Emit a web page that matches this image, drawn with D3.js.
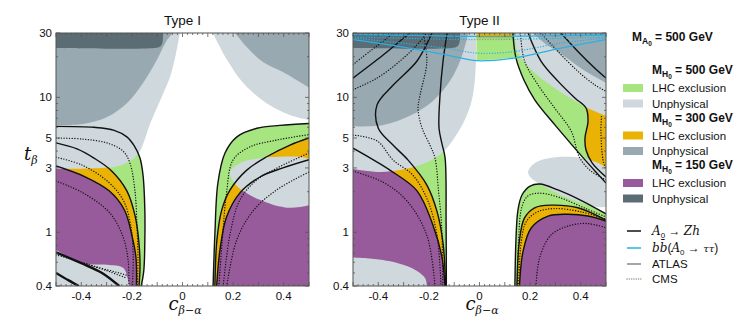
<!DOCTYPE html>
<html>
<head>
<meta charset="utf-8">
<script src="https://cdn.jsdelivr.net/npm/d3@7"></script>
<style>
  body { margin: 0; background: #fff; }
  text { font-family: "Liberation Sans", Arial, sans-serif; fill: #111; }
  .math { font-family: "DejaVu Serif", "Liberation Serif", serif; font-style: italic; }
</style>
</head>
<body>
<svg id="chart" width="747" height="320"></svg>
<script>

// axis ticks
var xTickLabels = [-0.4, -0.2, 0, 0.2, 0.4];
var yTickLabels = [0.4, 1, 3, 5, 10, 30];
var yMinorTicks = [0.4, 0.5, 0.6, 0.7, 0.8, 0.9, 1, 2, 3, 4, 5, 6, 7, 8, 9, 10, 20, 30];

// colours for each H0 mass (exclusion, unphysical)
var colors = {
  green: '#a6e57f',  // 500 LHC
  light: '#cfd8dc',  // 500 unphysical
  orange: '#e9b204', // 300 LHC
  medium: '#98a9b1', // 300 unphysical
  purple: '#975a9b', // 150 LHC
  dark: '#5b6c75',   // 150 unphysical
  blue: '#27b2e6'
};

////////////
// Type I  -- curves are [c_{b-a}, tan b]
////////////
var t1L_green = [[-0.5,6.1],[-0.35,6.0],[-0.27,5.7],[-0.22,5.1],[-0.19,4.35],[-0.168,3.55],[-0.156,2.65],[-0.149,1.5],[-0.149,0.83],[-0.153,0.52],[-0.163,0.4]];
var t1L_orange = [[-0.5,4.6],[-0.417,4.15],[-0.35,3.55],[-0.28,2.85],[-0.22,2.03],[-0.188,1.34],[-0.172,0.83],[-0.168,0.545],[-0.172,0.4]];
var t1L_purple = [[-0.5,3.1],[-0.385,2.58],[-0.29,2.03],[-0.23,1.47],[-0.2,0.95],[-0.184,0.65],[-0.182,0.4]];
var t1L_cmsGreen = [[-0.5,5.0],[-0.393,4.91],[-0.298,4.59],[-0.235,4.0],[-0.208,3.27],[-0.188,2.03],[-0.18,1.13],[-0.176,0.65],[-0.178,0.4]];
var t1L_cmsOrange = [[-0.5,3.6],[-0.397,3.15],[-0.292,2.35],[-0.233,1.71],[-0.205,1.13],[-0.195,0.68],[-0.198,0.4]];
var t1L_cmsPurple = [[-0.5,2.4],[-0.393,1.96],[-0.287,1.39],[-0.235,0.925],[-0.215,0.623],[-0.212,0.4]];
var t1_thickA = [[-0.5,0.71],[-0.4,0.59],[-0.318,0.5],[-0.25,0.4]];
var t1_thickB = [[-0.5,0.5],[-0.45,0.44],[-0.41,0.4]];
var t1_cmsBL1 = [[-0.5,0.68],[-0.449,0.64],[-0.35,0.56],[-0.251,0.5],[-0.22,0.48]];
var t1_cmsBL2 = [[-0.4,0.6],[-0.3,0.52],[-0.224,0.46]];

var t1R_green = [[0.121,0.4],[0.128,0.97],[0.14,2.33],[0.168,3.87],[0.215,5.1],[0.294,5.9],[0.385,6.2],[0.5,6.4]];
var t1R_orange = [[0.128,0.4],[0.136,0.875],[0.155,1.46],[0.188,2.06],[0.254,2.89],[0.333,3.63],[0.425,4.43],[0.5,5.0]];
var t1R_purple = [[0.135,0.4],[0.148,0.74],[0.174,1.3],[0.227,1.96],[0.306,2.57],[0.397,3.0],[0.5,3.45]];
var t1R_cmsGreen = [[0.144,0.4],[0.159,0.97],[0.174,1.96],[0.2,3.44],[0.267,4.3],[0.373,4.83],[0.5,5.3]];
var t1R_cmsOrange = [[0.161,0.4],[0.188,0.97],[0.227,1.74],[0.293,2.44],[0.385,3.07],[0.5,3.87]];
var t1R_cmsPurple = [[0.175,0.4],[0.214,0.875],[0.28,1.45],[0.372,2.06],[0.5,2.8]];

var t1_lightTL = [[-0.01,30],[-0.027,20.6],[-0.047,14.6],[-0.083,10],[-0.13,6.25],[-0.15,4.83],[-0.166,4.07],[-0.19,3.56],[-0.251,3.1],[-0.326,3.0],[-0.5,2.95]];
var t1_lightTR = [[0.12,30],[0.176,19],[0.24,12.8],[0.334,9],[0.425,7.4],[0.5,6.8]];
var t1_lightBL = [[-0.5,0.74],[-0.393,0.59],[-0.298,0.575],[-0.235,0.545],[-0.215,0.443],[-0.21,0.4]];
var t1_lightBlob = [[0.188,2.8],[0.227,3.27],[0.287,3.5],[0.385,3.63],[0.5,3.5],[0.56,2.8],[0.56,1.8],[0.5,1.59],[0.405,1.53],[0.306,1.74],[0.227,2.1],[0.196,2.45]];
var t1_mediumTL = [[-0.5,6.25],[-0.393,6.35],[-0.298,7.16],[-0.219,9.1],[-0.156,12.8],[-0.101,19.0],[-0.061,26.6],[-0.038,30]];
var t1_mediumTR = [[0.208,30],[0.254,23.6],[0.318,18.3],[0.397,15.4],[0.5,11.8]];
var t1_darkTL = [[-0.5,23.2],[-0.11,23.2],[-0.088,23.8],[-0.079,25.5],[-0.077,30]];

////////////
// Type II
////////////
var t2L_green = [[-0.128,30],[-0.144,18.6],[-0.156,10.4],[-0.16,5.9],[-0.148,4.5],[-0.136,3.56],[-0.132,1.13],[-0.131,0.4]];
var t2L_orange = [[-0.188,30],[-0.247,18.6],[-0.342,12.3],[-0.405,8.8],[-0.4,5.9],[-0.342,4.43],[-0.283,3.44],[-0.208,2.24],[-0.168,1.43],[-0.144,0.83],[-0.134,0.4]];
var t2L_purple = [[-0.5,4.2],[-0.433,3.56],[-0.354,2.89],[-0.247,2.03],[-0.184,1.13],[-0.148,0.65],[-0.137,0.4]];
var t2L_upper = [[-0.5,13.9],[-0.381,20.6],[-0.302,27.3],[-0.275,30]];
var t2L_cmsUpper = [[-0.5,17.5],[-0.433,22],[-0.367,27.3],[-0.342,30]];
var t2L_cmsB = [[-0.5,11.4],[-0.405,13.9],[-0.314,18.6],[-0.247,24.5],[-0.208,30]];
var t2L_cmsGreen = [[-0.223,30],[-0.208,18.6],[-0.235,10.4],[-0.243,8.25],[-0.227,5.92],[-0.196,4.43],[-0.176,3.56],[-0.162,2.03],[-0.15,1.13],[-0.145,0.4]];
var t2L_cmsOrange = [[-0.5,5.26],[-0.405,4.76],[-0.342,3.44],[-0.263,2.65],[-0.204,1.71],[-0.168,0.95],[-0.152,0.4]];
var t2L_cmsPurple = [[-0.5,2.84],[-0.381,2.35],[-0.287,1.71],[-0.208,0.95],[-0.176,0.4]];

var t2R_green = [[0.132,30],[0.144,19.6],[0.176,13.4],[0.219,9.55],[0.298,6.25],[0.366,4.43],[0.417,3.44],[0.46,2.8],[0.5,2.32]];
var t2R_orange = [[0.192,30],[0.243,18.6],[0.31,13.2],[0.377,9.9],[0.421,8.34],[0.429,6.68],[0.417,5.0],[0.421,4.07],[0.445,3.27],[0.5,2.57]];
var t2R_upper = [[0.322,30],[0.389,21.9],[0.455,16.5],[0.5,13.9]];
var t2R_cmsA = [[0.162,30],[0.178,18.6],[0.231,12.4],[0.297,8.34],[0.363,5.6],[0.395,3.6],[0.44,2.85],[0.5,2.45]];
var t2R_cmsB = [[0.243,30],[0.31,21.9],[0.389,15.6],[0.455,12.4],[0.5,11.1]];
var t2R_cmsC = [[0.482,7.2],[0.48,5.5],[0.488,3.44],[0.5,2.9]];
var t2_greenTop = [[-0.012,18.9],[0.06,19.1],[0.144,19.8]];
var t2_orangeTop = [[-0.012,27.3],[0.133,27.3]];

var t2B_green = [[0.14,0.4],[0.144,0.875],[0.152,1.46],[0.168,1.89],[0.2,2.2],[0.239,2.28],[0.31,2.06],[0.397,1.74],[0.5,1.37]];
var t2B_orange = [[0.148,0.4],[0.158,0.875],[0.178,1.28],[0.218,1.52],[0.284,1.59],[0.389,1.52],[0.5,1.23]];
var t2B_purple = [[0.158,0.4],[0.172,0.72],[0.205,1.08],[0.271,1.32],[0.35,1.36],[0.429,1.32],[0.5,1.21]];
var t2B_cmsGreen = [[0.15,0.4],[0.155,0.9],[0.166,1.5],[0.19,1.85],[0.24,1.95],[0.32,1.8],[0.42,1.5],[0.5,1.3]];
var t2B_cmsOrange = [[0.155,0.4],[0.165,0.85],[0.185,1.2],[0.23,1.42],[0.3,1.5],[0.4,1.42],[0.5,1.25]];
var t2B_cmsPurple = [[0.223,0.4],[0.238,0.65],[0.284,0.96],[0.363,1.13],[0.429,1.16],[0.5,1.08]];

var t2_lightTL = [[-0.014,30],[-0.014,18.6],[-0.026,10.4],[-0.053,7.16],[-0.097,5.09],[-0.136,4.07],[-0.168,3.63],[-0.235,3.15],[-0.314,2.89],[-0.393,2.8],[-0.5,2.95]];
var t2_lightTR = [[0.14,30],[0.148,22.4],[0.176,18.3],[0.243,13.9],[0.338,10.4],[0.429,8.3],[0.5,7.3]];
var t2_lightBL = [[-0.5,0.65],[-0.381,0.623],[-0.275,0.55],[-0.216,0.46],[-0.208,0.4]];
var t2_lightBlob = [[0.192,2.8],[0.219,3.27],[0.279,3.56],[0.358,3.63],[0.437,3.44],[0.5,3.0],[0.53,2.2],[0.5,1.56],[0.437,1.59],[0.338,1.83],[0.259,2.17],[0.208,2.48]];
var t2_mediumTL = [[-0.5,6.1],[-0.38,6.25],[-0.275,7.3],[-0.184,9.4],[-0.117,13.2],[-0.077,18.6],[-0.05,27],[-0.045,30]];
var t2_mediumTR = [[0.21,30],[0.26,25],[0.318,21.3],[0.41,16],[0.5,12.8]];
var t2_darkTL = [[-0.5,23.2],[-0.11,23.2],[-0.088,23.8],[-0.079,25.5],[-0.077,30]];

// b bbar (A0 -> tau tau) lines
var blueSolidA = [[-0.5,29.3],[-0.25,28.8],[0,28.3],[0.25,28.6],[0.5,29.0]];
var blueSolidB = [[-0.5,26.8],[-0.314,23.8],[-0.128,20.6],[-0.01,18.7],[0.132,19.5],[0.318,23.1],[0.5,26.8]];
var blueDotA = [[-0.5,28.0],[-0.25,27.3],[0,26.8],[0.25,27.2],[0.5,28.0]];
var blueDotB = [[-0.5,27.6],[-0.128,23.1],[-0.01,21.3],[0.132,21.8],[0.318,25.2],[0.5,27.6]];


var svg = d3.select('#chart');

var y = d3.scaleLog().domain([0.4, 30]).range([286, 33]);
var x1 = d3.scaleLinear().domain([-0.5, 0.5]).range([56, 309]);
var x2 = d3.scaleLinear().domain([-0.5, 0.5]).range([353, 606]);

// path for a region: the curve then straight to extra corners
var regionPath = function(xs, pts, corners) {
  var line = d3.line().x(function(d) { return xs(d[0]); }).y(function(d) { return y(d[1]); })
                 .curve(d3.curveCatmullRom);
  var p = line(pts);
  corners.forEach(function(c) {
    p += 'L' + xs(c[0]) + ',' + y(c[1]);
  });
  return p + 'Z';
};

var drawPanel = function(xs, id, title, fills, blobs, lines) {
  svg.append('clipPath').attr('id', id)
    .append('rect')
      .attr('x', xs(-0.5)).attr('y', y(30))
      .attr('width', xs(0.5) - xs(-0.5)).attr('height', y(0.4) - y(30));

  var g = svg.append('g').attr('clip-path', 'url(#' + id + ')');

  fills.forEach(function(f) {
    if (f.blob) {
      var closed = d3.line().x(function(d) { return xs(d[0]); }).y(function(d) { return y(d[1]); })
                     .curve(d3.curveCatmullRomClosed);
      g.append('path').attr('d', closed(f.pts)).attr('fill', f.color);
    } else {
      g.append('path').attr('d', regionPath(xs, f.pts, f.corners)).attr('fill', f.color);
    }
  });

  var line = d3.line().x(function(d) { return xs(d[0]); }).y(function(d) { return y(d[1]); })
               .curve(d3.curveCatmullRom);
  lines.forEach(function(l) {
    g.append('path')
      .attr('d', line(l.pts))
      .attr('fill', 'none')
      .attr('stroke', l.color || '#111')
      .attr('stroke-width', l.width || 1.4)
      .attr('stroke-dasharray', l.dash || null)
      .attr('stroke-linecap', l.dash ? 'round' : 'butt');
  });

  // frame
  svg.append('rect')
    .attr('x', xs(-0.5)).attr('y', y(30))
    .attr('width', xs(0.5) - xs(-0.5)).attr('height', y(0.4) - y(30))
    .attr('fill', 'none').attr('stroke', '#555').attr('stroke-width', 1);

  // ticks on all four sides, pointing in
  var ticks = svg.append('g').attr('stroke', '#555').attr('stroke-width', 0.8);
  d3.range(-0.5, 0.5001, 0.02).forEach(function(v) {
    var major = Math.abs(v * 10 - Math.round(v * 10)) < 1e-6;
    var len = major ? 4 : 2;
    ticks.append('line').attr('x1', xs(v)).attr('x2', xs(v)).attr('y1', y(0.4)).attr('y2', y(0.4) - len);
    ticks.append('line').attr('x1', xs(v)).attr('x2', xs(v)).attr('y1', y(30)).attr('y2', y(30) + len);
  });
  yMinorTicks.forEach(function(v) {
    var len = yTickLabels.indexOf(v) >= 0 ? 4 : 2;
    ticks.append('line').attr('x1', xs(-0.5)).attr('x2', xs(-0.5) + len).attr('y1', y(v)).attr('y2', y(v));
    ticks.append('line').attr('x1', xs(0.5)).attr('x2', xs(0.5) - len).attr('y1', y(v)).attr('y2', y(v));
  });

  yTickLabels.forEach(function(v) {
    svg.append('text')
      .attr('x', xs(-0.5) - 4).attr('y', y(v) + 4)
      .attr('text-anchor', 'end').attr('font-size', 11.5)
      .text(v);
  });
  xTickLabels.forEach(function(v) {
    svg.append('text')
      .attr('x', xs(v)).attr('y', 300)
      .attr('text-anchor', 'middle').attr('font-size', 11.5)
      .text(v);
  });

  svg.append('text')
    .attr('x', xs(0)).attr('y', 25)
    .attr('text-anchor', 'middle').attr('font-size', 13.5)
    .text(title);

  // x axis title c_{beta-alpha}
  var xt = svg.append('text').attr('class', 'math')
    .attr('x', xs(0) - 14).attr('y', 310).attr('font-size', 18);
  xt.append('tspan').text('c');
  xt.append('tspan').attr('font-size', 11).attr('dy', 4).text('β−α');
};

var solid = function(pts) { return {pts: pts}; };
var dotted = function(pts) { return {pts: pts, dash: '0.1,2.6', width: 1.3}; };

drawPanel(x1, 'clipI', 'Type I', [
  {pts: t1L_green, corners: [[-0.5, 0.4]], color: colors.green},
  {pts: t1R_green, corners: [[0.5, 0.4]], color: colors.green},
  {pts: t1L_orange, corners: [[-0.5, 0.4]], color: colors.orange},
  {pts: t1R_orange, corners: [[0.5, 0.4]], color: colors.orange},
  {pts: t1L_purple, corners: [[-0.5, 0.4]], color: colors.purple},
  {pts: t1R_purple, corners: [[0.5, 0.4]], color: colors.purple},
  {pts: t1_lightTL, corners: [[-0.5, 30]], color: colors.light},
  {pts: t1_lightTR, corners: [[0.5, 30]], color: colors.light},
  {pts: t1_lightBL, corners: [[-0.5, 0.4]], color: colors.light},
  {pts: t1_lightBlob, blob: true, color: colors.light},
  {pts: t1_mediumTL, corners: [[-0.5, 30]], color: colors.medium},
  {pts: t1_mediumTR, corners: [[0.5, 30]], color: colors.medium},
  {pts: t1_darkTL, corners: [[-0.5, 30]], color: colors.dark}
], null, [
  dotted(t1L_cmsGreen), dotted(t1L_cmsOrange), dotted(t1L_cmsPurple),
  dotted(t1R_cmsGreen), dotted(t1R_cmsOrange), dotted(t1R_cmsPurple),
  dotted(t1_cmsBL1), dotted(t1_cmsBL2),
  solid(t1L_green), solid(t1L_orange), solid(t1L_purple),
  solid(t1R_green), solid(t1R_orange), solid(t1R_purple),
  {pts: t1_thickA, width: 2.4}, {pts: t1_thickB, width: 2.4}
]);

drawPanel(x2, 'clipII', 'Type II', [
  {pts: t2L_green, corners: [[-0.5, 0.4], [-0.5, 30]], color: colors.green},
  {pts: t2_greenTop, corners: [[0.14, 30], [-0.012, 30]], color: colors.green},
  {pts: t2R_green, corners: [[0.5, 30]], color: colors.green},
  {pts: t2B_green, corners: [[0.5, 0.4]], color: colors.green},
  {pts: t2L_orange, corners: [[-0.5, 0.4], [-0.5, 30]], color: colors.orange},
  {pts: t2_orangeTop, corners: [[0.133, 30], [-0.012, 30]], color: colors.orange},
  {pts: t2R_orange, corners: [[0.5, 30]], color: colors.orange},
  {pts: t2B_orange, corners: [[0.5, 0.4]], color: colors.orange},
  {pts: t2L_purple, corners: [[-0.5, 0.4]], color: colors.purple},
  {pts: t2B_purple, corners: [[0.5, 0.4]], color: colors.purple},
  {pts: t2_lightTL, corners: [[-0.5, 30]], color: colors.light},
  {pts: t2_lightTR, corners: [[0.5, 30]], color: colors.light},
  {pts: t2_lightBL, corners: [[-0.5, 0.4]], color: colors.light},
  {pts: t2_lightBlob, blob: true, color: colors.light},
  {pts: t2_mediumTL, corners: [[-0.5, 30]], color: colors.medium},
  {pts: t2_mediumTR, corners: [[0.5, 30]], color: colors.medium},
  {pts: t2_darkTL, corners: [[-0.5, 30]], color: colors.dark}
], null, [
  dotted(t2L_cmsUpper), dotted(t2L_cmsB), dotted(t2L_cmsGreen), dotted(t2L_cmsOrange), dotted(t2L_cmsPurple),
  dotted(t2R_cmsA), dotted(t2R_cmsB), dotted(t2R_cmsC),
  dotted(t2B_cmsGreen), dotted(t2B_cmsOrange), dotted(t2B_cmsPurple),
  solid(t2L_green), solid(t2L_orange), solid(t2L_purple), solid(t2L_upper),
  solid(t2R_green), solid(t2R_orange), solid(t2R_upper),
  solid(t2B_green), solid(t2B_orange), solid(t2B_purple),
  {pts: blueDotA, color: colors.blue, dash: '0.1,2.6', width: 1.3},
  {pts: blueDotB, color: colors.blue, dash: '0.1,2.6', width: 1.3},
  {pts: blueSolidA, color: colors.blue, width: 1.3},
  {pts: blueSolidB, color: colors.blue, width: 1.3}
]);

// y axis title t_beta
var yt = svg.append('text').attr('class', 'math').attr('x', 24).attr('y', 160).attr('font-size', 18);
yt.append('tspan').text('t');
yt.append('tspan').attr('font-size', 11).attr('dy', 4).text('β');

////////////
// legend
////////////
var massHeader = function(xp, yp, sub, value) {
  var t = svg.append('text').attr('x', xp).attr('y', yp).attr('font-size', 12).attr('font-weight', 'bold');
  t.append('tspan').text('M');
  t.append('tspan').attr('font-size', 8.5).attr('dy', 3).text(sub);
  t.append('tspan').attr('font-size', 6.5).attr('dy', 2).text('0');
  t.append('tspan').attr('font-size', 12).attr('dy', -5).text(' = ' + value + ' GeV');
};

var legendMasses = ['500', '300', '150'];
var legendSwatches = [[colors.green, colors.light], [colors.orange, colors.medium], [colors.purple, colors.dark]];

massHeader(632, 41, 'A', '500');

legendMasses.forEach(function(m, i) {
  var top = 74 + i * 47.5;
  massHeader(652, top, 'H', m);
  ['LHC exclusion', 'Unphysical'].forEach(function(label, j) {
    var cy = top + 14 + j * 15.5;
    svg.append('rect').attr('x', 623).attr('y', cy - 4).attr('width', 20).attr('height', 8)
      .attr('fill', legendSwatches[i][j]);
    svg.append('text').attr('x', 652).attr('y', cy + 4).attr('font-size', 11.5).text(label);
  });
});

var legendLines = [
  {y: 231, color: '#111', dash: null},
  {y: 248, color: colors.blue, dash: null},
  {y: 264, color: '#888', dash: null},
  {y: 279, color: '#999', dash: '0.1,2.2'}
];
legendLines.forEach(function(l) {
  svg.append('line').attr('x1', 627).attr('x2', 641).attr('y1', l.y).attr('y2', l.y)
    .attr('stroke', l.color).attr('stroke-width', 1.5)
    .attr('stroke-dasharray', l.dash).attr('stroke-linecap', l.dash ? 'round' : 'butt');
});

var l1 = svg.append('text').attr('x', 652).attr('y', 235).attr('font-size', 12);
l1.append('tspan').attr('class', 'math').text('A');
l1.append('tspan').attr('font-size', 8).attr('dy', 3).text('0');
l1.append('tspan').attr('dy', -3).text(' → ');
l1.append('tspan').attr('class', 'math').text('Zh');

var l2 = svg.append('text').attr('x', 652).attr('y', 252).attr('font-size', 12);
l2.append('tspan').attr('class', 'math').text('bb\u0304');
l2.append('tspan').text('(');
l2.append('tspan').attr('class', 'math').text('A');
l2.append('tspan').attr('font-size', 8).attr('dy', 3).text('0');
l2.append('tspan').attr('dy', -3).text(' → ');
l2.append('tspan').attr('class', 'math').attr('font-size', 10).text('ττ');
l2.append('tspan').text(')');

svg.append('text').attr('x', 652).attr('y', 268).attr('font-size', 11.5).text('ATLAS');
svg.append('text').attr('x', 652).attr('y', 283).attr('font-size', 11.5).text('CMS');

</script>
</body>
</html>
